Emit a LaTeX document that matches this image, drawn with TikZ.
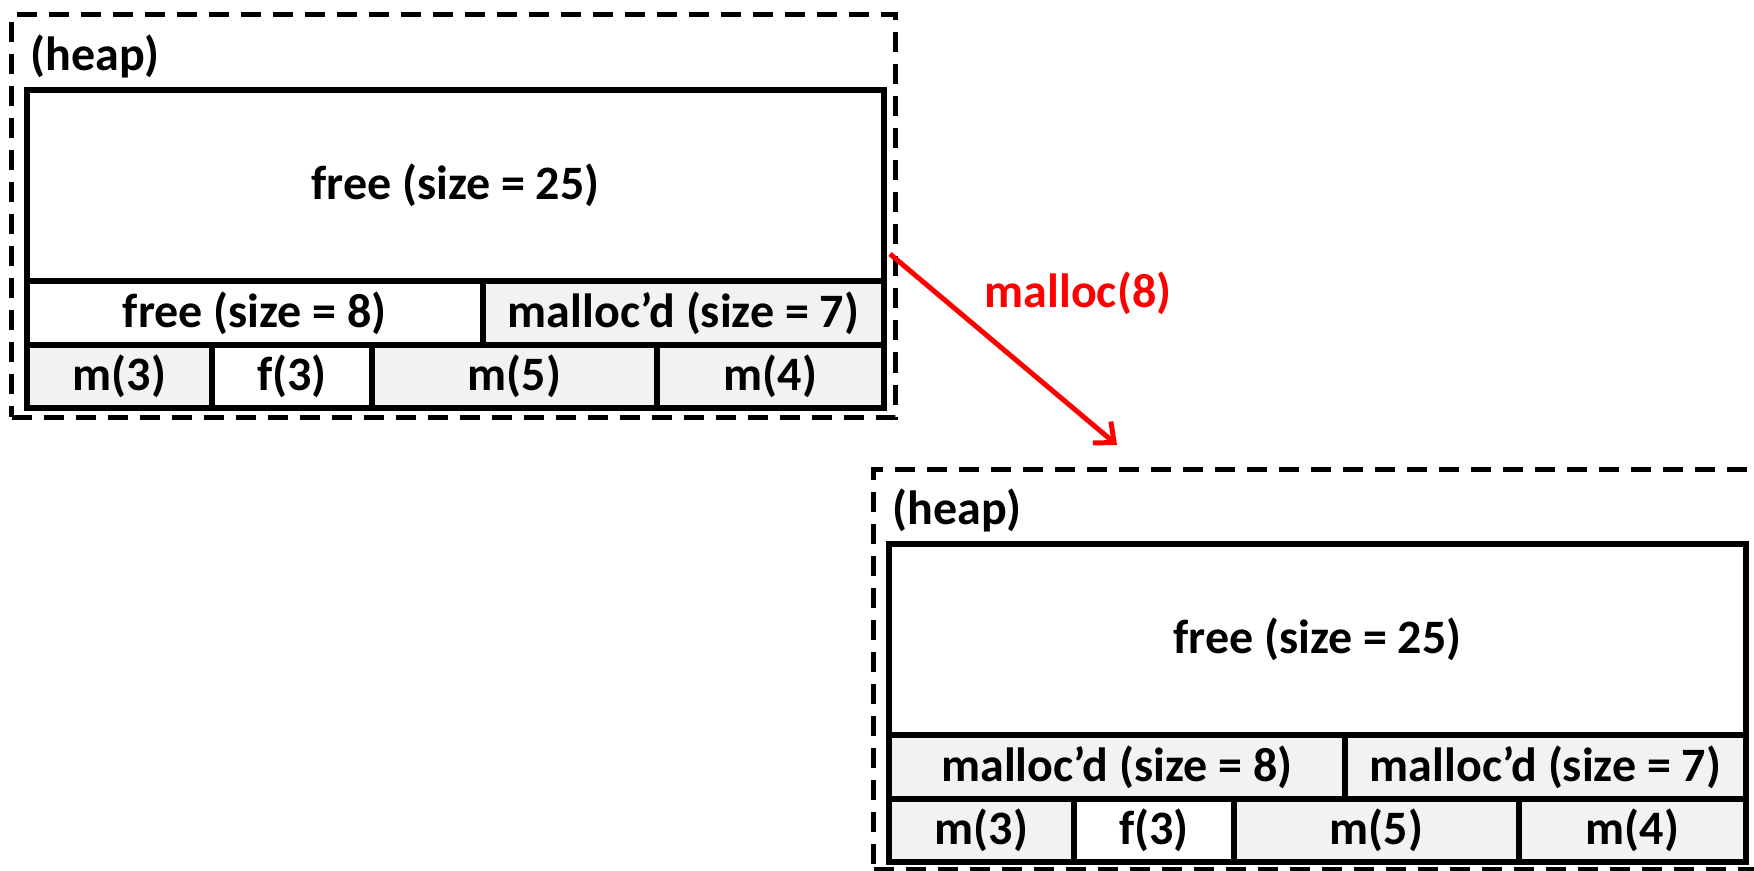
\documentclass[tikz,border=0pt]{standalone}
\usepackage{fontspec}
\setmainfont{Carlito}
\usetikzlibrary{arrows.meta}
\definecolor{cellgray}{HTML}{F2F2F2}
\definecolor{arrowred}{HTML}{FF0000}
\newcommand\memcell[7]{\node[#6, minimum width={(#4-#2)*0.5pt}, minimum height={(#5-#3)*0.5pt}] (#1) at ({(#2+#4)/2},{(#3+#5)/2}) {#7};}
\begin{document}
\begin{tikzpicture}[x=0.5pt,y=-0.5pt,
  txt/.style={font=\bfseries\fontsize{24}{28}\selectfont},
  cell/.style={txt, draw=black, line width=3pt, inner sep=0pt, outer sep=0pt},
  used/.style={cell, fill=cellgray},
  freec/.style={cell, fill=white},
  heapbox/.style={draw=black, line width=2.5pt, dash pattern=on 10pt off 6pt, inner sep=0pt, outer sep=0pt},
  heaplabel/.style={txt, anchor=west, inner sep=0pt}]
\useasboundingbox (0,0) rectangle (1754,871);
\clip (0,0) rectangle (1754,871);
\fill[white] (0,0) rectangle (1754,871);
% ---- heap before ----
\memcell{heapA}{11.5}{15}{895}{417}{heapbox}{}
\node[heaplabel] (lblA) at (30,56) {(heap)};
\memcell{abig}{27}{90}{884}{281}{freec}{free (size = 25)}
\memcell{af8}{27}{281}{483}{345}{freec}{free (size = 8)}
\memcell{am7}{483}{281}{884}{345}{used}{malloc’d (size = 7)}
\memcell{am3}{27}{345}{212}{408}{used}{m(3)}
\memcell{af3}{212}{345}{372}{408}{freec}{f(3)}
\memcell{am5}{372}{345}{657}{408}{used}{m(5)}
\memcell{am4}{657}{345}{884}{408}{used}{m(4)}
% ---- heap after ----
\begin{scope}[shift={(862,454)}]
\memcell{heapB}{11.5}{15}{920}{415}{heapbox}{}
\node[heaplabel] (lblB) at (30,56) {(heap)};
\memcell{bbig}{27}{90}{884}{281}{freec}{free (size = 25)}
\memcell{bm8}{27}{281}{483}{345}{used}{malloc’d (size = 8)}
\memcell{bm7}{483}{281}{884}{345}{used}{malloc’d (size = 7)}
\memcell{bm3}{27}{345}{212}{408}{used}{m(3)}
\memcell{bf3}{212}{345}{372}{408}{freec}{f(3)}
\memcell{bm5}{372}{345}{657}{408}{used}{m(5)}
\memcell{bm4}{657}{345}{884}{408}{used}{m(4)}
\end{scope}
% ---- arrow ----
\coordinate (arrs) at (890,254);
\coordinate (arre) at (1117,445);
\draw[arrowred, line width=2.5pt, -{Straight Barb[length=8pt,width=14pt]}] (arrs) -- (arre);
\node[txt, text=arrowred, inner sep=0pt] (mlabel) at (1078,293) {malloc(8)};
\end{tikzpicture}
\end{document}
